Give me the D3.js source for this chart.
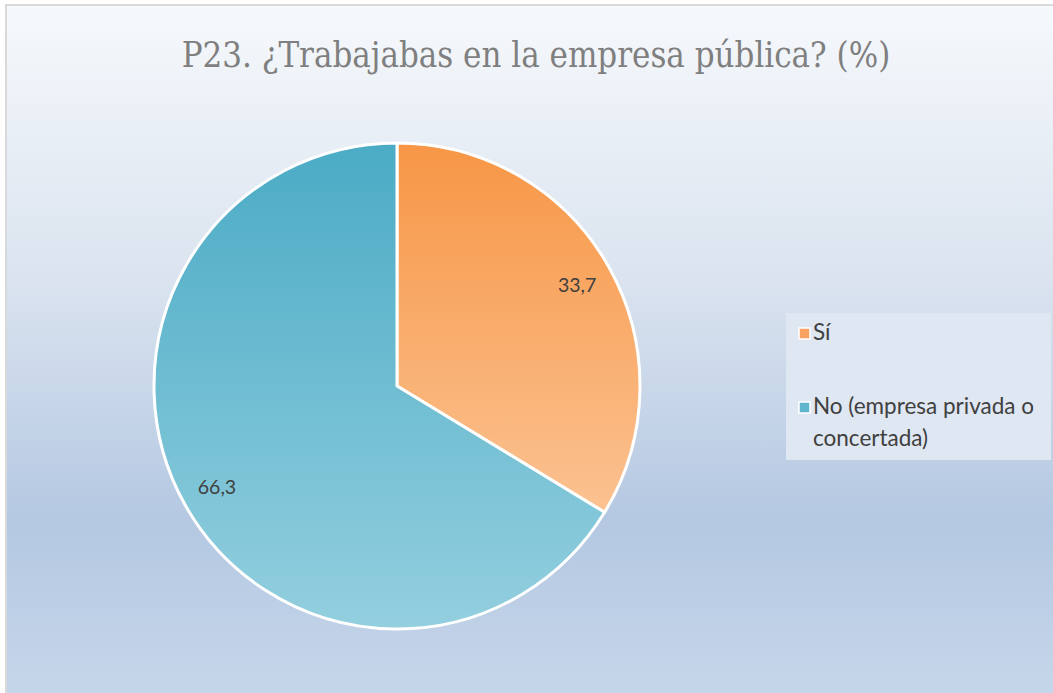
<!DOCTYPE html>
<html>
<head>
<meta charset="utf-8">
<script src="https://cdn.jsdelivr.net/npm/d3@7"></script>
<style>
  body { margin: 0; background: #fff; }
  svg { display: block; }
</style>
</head>
<body>
<div id="chart"></div>
<script>
// data
const categories = ["Sí", "No (empresa privada o concertada)"];
const values = [33.7, 66.3];
const labels = ["33,7", "66,3"];
const legendLines = [["Sí"], ["No (empresa privada o", "concertada)"]];
const title = "P23. ¿Trabajabas en la empresa pública? (%)";

const width = 1053, height = 693;
const svg = d3.select("#chart").append("svg")
    .attr("width", width)
    .attr("height", height);

const defs = svg.append("defs");

// background gradient
const bg = defs.append("linearGradient").attr("id", "bg")
    .attr("x1", 0).attr("y1", 0).attr("x2", 0).attr("y2", 1);
bg.append("stop").attr("offset", "0%").attr("stop-color", "#f6f9fc");
bg.append("stop").attr("offset", "40%").attr("stop-color", "#dae3ef");
bg.append("stop").attr("offset", "75%").attr("stop-color", "#b4c8e2");
bg.append("stop").attr("offset", "100%").attr("stop-color", "#c6d6ea");

// slice gradients
const grads = [["#f79646", "#fbc291"], ["#4babc5", "#93cfdf"]];
grads.forEach(function(g, i){
  const lg = defs.append("linearGradient").attr("id", "slice" + i)
      .attr("x1", 0).attr("y1", 0).attr("x2", 0).attr("y2", 1);
  lg.append("stop").attr("offset", "0%").attr("stop-color", g[0]);
  lg.append("stop").attr("offset", "100%").attr("stop-color", g[1]);
});

// frame
svg.append("rect").attr("x", 0).attr("y", 0).attr("width", width).attr("height", height).attr("fill", "#fff");
svg.append("rect").attr("x", 5).attr("y", 4).attr("width", width - 5).attr("height", height - 4).attr("fill", "#d9d9d9");
svg.append("rect").attr("x", 7).attr("y", 6).attr("width", width - 7).attr("height", height - 6).attr("fill", "url(#bg)");

svg.append("text")
    .attr("x", 536).attr("y", 67)
    .attr("text-anchor", "middle")
    .attr("font-family", "'DejaVu Serif Condensed', 'Liberation Serif', serif")
    .attr("font-size", 34.5)
    .attr("fill", "#7f7f7f")
    .text(title);

// pie
const cx = 397, cy = 386, r = 243;
const pie = d3.pie().sort(null).value(d => d);
const arc = d3.arc().innerRadius(0).outerRadius(r);
const arcs = pie(values);

const g = svg.append("g").attr("transform", `translate(${cx},${cy})`);
g.selectAll("path.slice").data(arcs).enter().append("path")
    .attr("class", "slice")
    .attr("d", arc)
    .attr("fill", (d, i) => `url(#slice${i})`)
    .attr("stroke", "#fff")
    .attr("stroke-width", 3)
    .attr("stroke-linejoin", "round");

const labelArc = d3.arc().innerRadius(r * 0.85).outerRadius(r * 0.85);
g.selectAll("text.lbl").data(arcs).enter().append("text")
    .attr("class", "lbl")
    .attr("transform", d => `translate(${labelArc.centroid(d)})`)
    .attr("text-anchor", "middle")
    .attr("dy", "0.35em")
    .attr("font-family", "Lato, 'Open Sans', sans-serif")
    .attr("font-size", 19.5)
    .attr("fill", "#404040")
    .text((d, i) => labels[i]);

// legend
const legend = svg.append("g").attr("transform", "translate(786,313)");
legend.append("rect").attr("width", 265).attr("height", 147).attr("fill", "#dfe7f2");
const legendY = [27, 101];
const legendColors = ["#f8a262", "#5fb6cd"];
legendLines.forEach(function(lines, i){
  const item = legend.append("g").attr("transform", `translate(0,${legendY[i]})`);
  item.append("rect").attr("x", 13).attr("y", -12).attr("width", 11).attr("height", 11)
      .attr("fill", legendColors[i]).attr("stroke", "#fff").attr("stroke-width", 1.5);
  const t = item.append("text")
      .attr("x", 27).attr("y", 0)
      .attr("font-family", "Lato, 'Open Sans', sans-serif")
      .attr("font-size", 22.5)
      .attr("fill", "#404040");
  lines.forEach(function(line, j){
    t.append("tspan").attr("x", 27).attr("dy", j === 0 ? 0 : 32).text(line);
  });
});
</script>
</body>
</html>
